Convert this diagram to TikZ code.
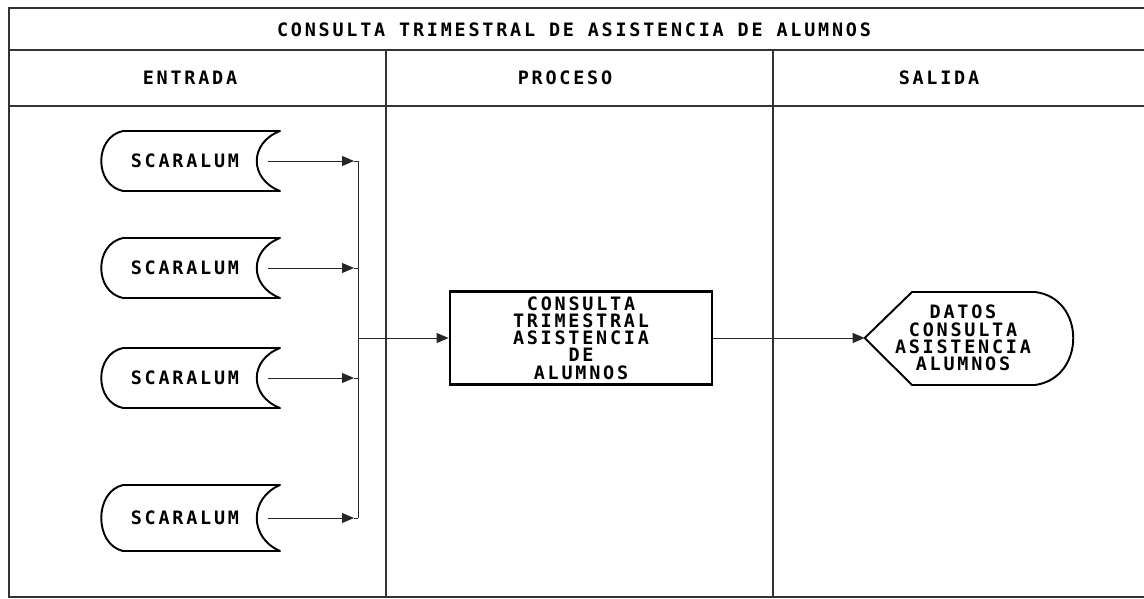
\documentclass[tikz,border=0pt]{standalone}
\usepackage{fontspec}
\usepackage{tikz}
\usetikzlibrary{arrows.meta}
\newfontfamily\plotfont[LetterSpace=15]{DejaVu Sans Mono}

\begin{document}
\begin{tikzpicture}[
  x=0.02cm, y=-0.02cm,
  txt/.style  ={font={\plotfont\bfseries\fontsize{10.5}{9.8}\selectfont}, inner sep=0pt, align=center},
  almac/.style={txt, minimum width=3.32cm, minimum height=1.2cm},
  caja/.style ={txt, draw, line width=1.6pt, minimum width=5.24cm, minimum height=1.86cm},
  pant/.style ={txt, minimum width=3.92cm, minimum height=1.86cm},
  borde/.style={line width=1.1pt, line join=round},
  marco/.style={line width=0.6pt, black!80},
  ar/.style   ={-{Triangle[length=2.4mm,width=2mm]}, line width=0.5pt, black!85}
]
\useasboundingbox (0,0) rectangle (1144,599);
% marco y cabeceras
\draw[marco] (1144,8) -- (9,8) -- (9,597) -- (1144,597);
\draw[marco] (9,50) -- (1144,50);
\draw[marco] (9,106) -- (1144,106);
\draw[marco] (386,50) -- (386,597);
\draw[marco] (773,50) -- (773,597);
\node[txt] (tit) at (574,30) {CONSULTA TRIMESTRAL DE ASISTENCIA DE ALUMNOS};
\node[txt] (ent) at (190,78) {ENTRADA};
\node[txt] (pro) at (565,78) {PROCESO};
\node[txt] (sal) at (939,78) {SALIDA};
% archivos de entrada
\foreach \n/\y/\h in {1/161/30, 2/268/30, 3/378/30, 4/518/33} {
  \node[almac] (s\n) at (185,\y) {SCARALUM};
  \draw[borde] (123,\y-\h) -- (280,\y-\h)
    .. controls (249,\y-0.6*\h) and (249,\y+0.6*\h) .. (280,\y+\h)
    -- (123,\y+\h)
    .. controls (94,\y+0.8*\h) and (94,\y-0.8*\h) .. cycle;
  \coordinate (a\n) at (354,\y);
  \coordinate (j\n) at (358,\y);
  \draw[ar] (s\n.east) -- (a\n);
  \draw[line width=0.5pt, black!85] (a\n) -- (j\n);
}
\draw[line width=0.5pt, black!85] (j1) -- (j4);
\coordinate (jm) at (358,338);
% proceso
\node[caja] (cons) at (581,338) {CONSULTA\\TRIMESTRAL\\ASISTENCIA\\DE\\ALUMNOS};
\draw[ar] (jm) -- (cons.west);
% salida por pantalla
\node[pant] (dat) at (963,338) {DATOS\\CONSULTA\\ASISTENCIA\\ALUMNOS};
\draw[borde] (dat.west) -- (912,292) -- (1035,292)
  .. controls (1086,298) and (1086,378) .. (1035,385) -- (912,385) -- cycle;
\draw[ar] (cons.east) -- (dat.west);
\end{tikzpicture}
\end{document}
